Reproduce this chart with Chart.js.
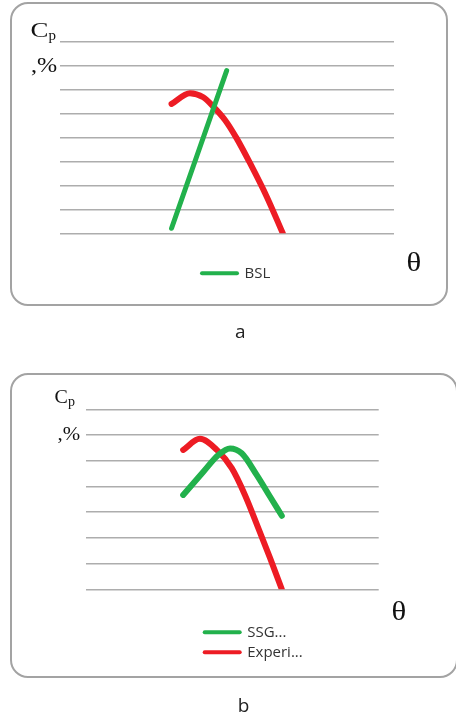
<!DOCTYPE html>
<html>
<head>
<meta charset="utf-8">
<script src="https://cdn.jsdelivr.net/npm/chart.js@4.4.1/dist/chart.umd.min.js"></script>
<style>
  html, body { margin: 0; padding: 0; background: #fff; }
  body { position: relative; width: 456px; height: 717px; overflow: hidden; }
  .panel { position: absolute; box-sizing: border-box; border: 2px solid #a3a3a3; border-radius: 18px; }
  #panelA { left: 10px; top: 2px; width: 438px; height: 304px; }
  #panelB { left: 10px; top: 373px; width: 448px; height: 305px; }
  canvas { position: absolute; left: 0; }
  #chartA { top: 0; }
  #chartB { top: 360px; }
</style>
</head>
<body>
<div class="panel" id="panelA"></div>
<div class="panel" id="panelB"></div>
<canvas id="chartA" width="456" height="345"></canvas>
<canvas id="chartB" width="456" height="357"></canvas>
<script>
// panel a
const bslTheta = [3.34, 4.99];
const bslCp = [0.21, 6.80];
const expThetaA = [3.34, 3.89, 4.29, 4.59, 4.94, 5.29, 5.69, 6.19, 6.67];
const expCpA = [5.41, 5.86, 5.69, 5.30, 4.74, 3.97, 2.93, 1.53, 0.0];

// panel b
const ssgTheta = [3.32, 4.01, 4.52, 4.92, 5.32, 5.83, 6.29, 6.69];
const ssgCp = [3.67, 4.57, 5.22, 5.48, 5.29, 4.45, 3.60, 2.86];
const expThetaB = [3.32, 3.89, 4.47, 4.98, 5.43, 5.89, 6.29, 6.69];
const expCpB = [5.42, 5.85, 5.42, 4.71, 3.67, 2.37, 1.21, 0.0];

const GREEN = "#22b14c";
const RED = "#ed1c24";

function pairs(xs, ys) {
  return xs.map((x, i) => ({ x: x, y: ys[i] }));
}

// text that sits outside the plot (axis symbols, panel letter)
const notes = {
  id: "notes",
  afterDraw(chart, args, opts) {
    const ctx = chart.ctx;
    (opts.items || []).forEach((n) => {
      ctx.save();
      ctx.textBaseline = "alphabetic";
      ctx.font = n.font;
      ctx.fillStyle = n.color || "#111";
      ctx.textAlign = n.align || "left";
      ctx.translate(n.x, n.y);
      ctx.scale(n.sx || 1, 1);
      ctx.fillText(n.text, 0, 0);
      ctx.restore();
    });
  },
};

// put the legend at a given x and let it wrap into rows
const placeLegend = {
  id: "placeLegend",
  afterLayout(chart, args, opts) {
    const lg = chart.legend;
    if (!lg || opts.left == null) return;
    lg.left = opts.left;
    lg.right = opts.left + opts.width;
    lg.maxWidth = opts.width;
    lg.fit();
    lg.bottom = lg.top + lg.height;
  },
};

function makeChart(id, datasets, yMax, pad, axisGap, legendOpts, noteItems) {
  const ctx = document.getElementById(id).getContext("2d");
  return new Chart(ctx, {
    type: "line",
    data: { datasets: datasets },
    options: {
      responsive: false,
      animation: false,
      layout: { padding: pad },
      elements: { point: { radius: 0 } },
      scales: {
        x: {
          type: "linear",
          min: 0,
          max: 10,
          ticks: { display: false },
          grid: { display: false },
          border: { display: false },
          afterFit: (s) => { s.height = axisGap; },
        },
        y: {
          min: 0,
          max: yMax,
          ticks: { display: false, stepSize: 1 },
          grid: { color: "#adadad", lineWidth: 1.5, drawTicks: false },
          border: { display: false },
        },
      },
      plugins: {
        tooltip: { enabled: false },
        legend: {
          position: "bottom",
          align: "start",
          labels: {
            usePointStyle: true,
            pointStyle: "line",
            pointStyleWidth: 35,
            padding: 5,
            color: "#333",
            font: { family: "Open Sans", size: 15 },
            filter: legendOpts.filter,
            generateLabels: (chart) =>
              Chart.defaults.plugins.legend.labels
                .generateLabels(chart)
                .map((it) => Object.assign(it, { lineWidth: 4, lineCap: "round" })),
          },
        },
        placeLegend: { left: legendOpts.left, width: 130 },
        notes: { items: noteItems },
      },
    },
    plugins: [placeLegend, notes],
  });
}

function series(label, xs, ys, color, width) {
  return {
    label: label,
    data: pairs(xs, ys),
    borderColor: color,
    backgroundColor: color,
    borderWidth: width,
    borderCapStyle: "round",
    borderJoinStyle: "round",
    cubicInterpolationMode: "monotone",
    fill: false,
    clip: 0,
  };
}

makeChart(
  "chartA",
  [
    series("BSL", bslTheta, bslCp, GREEN, 5),
    series("Experiment", expThetaA, expCpA, RED, 6),
  ],
  8,
  { left: 60, right: 62, top: 42, bottom: 54.2 },
  27.5,
  { left: 197, filter: (item) => item.datasetIndex === 0 },
  [
    { text: "C", font: '22px "Liberation Serif"', sx: 1.22, x: 30.5, y: 36.5 },
    { text: "p", font: '15px "Liberation Serif"', x: 48.5, y: 40 },
    { text: ",%", font: '21px "Liberation Serif"', sx: 1.15, x: 31, y: 71.5 },
    { text: "θ", font: '28px "Liberation Serif"', sx: 1.1, x: 406.5, y: 271 },
    { text: "a", font: '19px "Open Sans"', color: "#222", align: "center", x: 240.3, y: 338.3 },
  ]
);

makeChart(
  "chartB",
  [
    series("SSG...", ssgTheta, ssgCp, GREEN, 6),
    series("Experi...", expThetaB, expCpB, RED, 6),
  ],
  7,
  { left: 86, right: 77.3, top: 49.3, bottom: 67.2 },
  30.5,
  { left: 199.7, filter: () => true },
  [
    { text: "C", font: '19px "Liberation Serif"', sx: 1.05, x: 54.5, y: 42.5 },
    { text: "p", font: '14px "Liberation Serif"', x: 68, y: 45.5 },
    { text: ",%", font: '19px "Liberation Serif"', sx: 1.1, x: 57.5, y: 79.5 },
    { text: "θ", font: '28px "Liberation Serif"', sx: 1.1, x: 391.5, y: 259.5 },
    { text: "b", font: '19px "Open Sans"', color: "#222", align: "center", x: 243.5, y: 351.7 },
  ]
);
</script>
</body>
</html>
